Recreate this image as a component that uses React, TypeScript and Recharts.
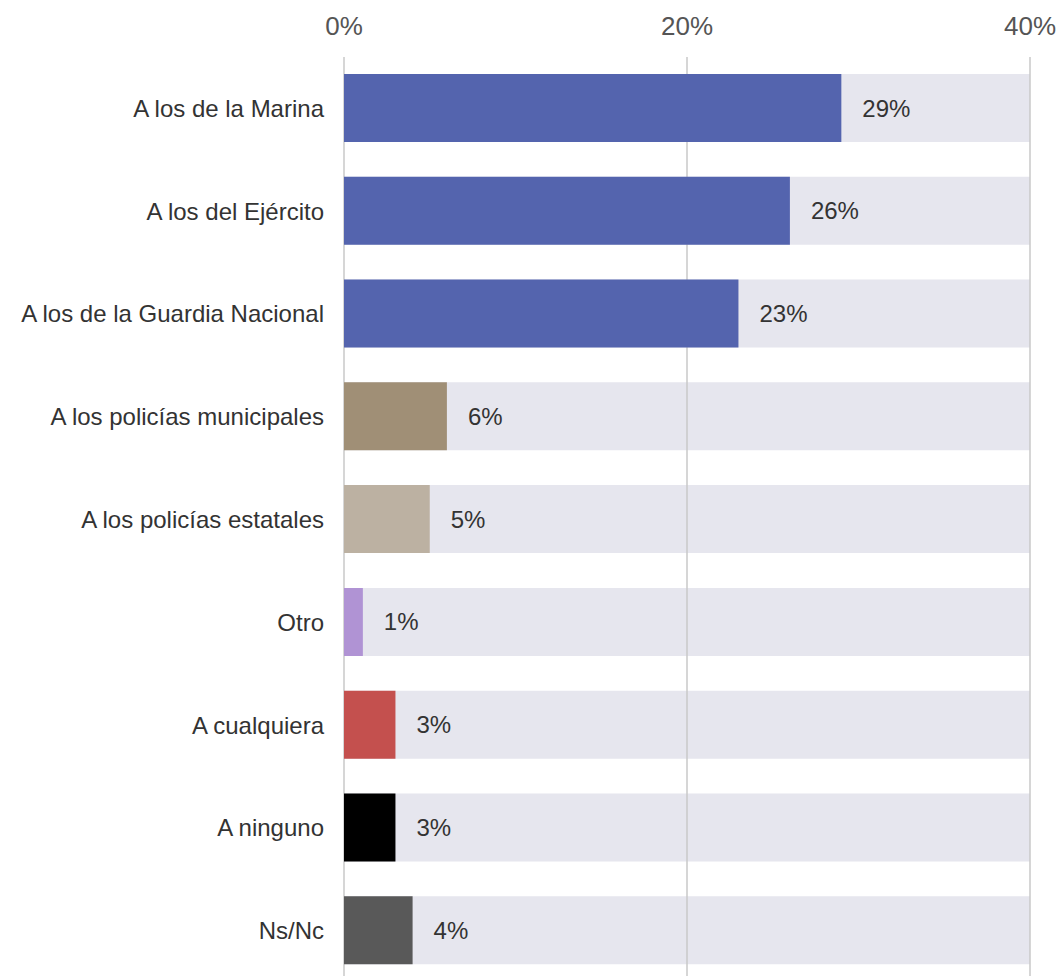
import { BarChart, Bar, XAxis, YAxis, CartesianGrid, Cell, LabelList } from 'recharts';

const categories = [
  'A los de la Marina',
  'A los del Ejército',
  'A los de la Guardia Nacional',
  'A los policías municipales',
  'A los policías estatales',
  'Otro',
  'A cualquiera',
  'A ninguno',
  'Ns/Nc',
];

const values = [29, 26, 23, 6, 5, 1.1, 3, 3, 4];

const colors = [
  '#5464ae',
  '#5464ae',
  '#5464ae',
  '#a08f76',
  '#bcb1a2',
  '#b093d4',
  '#c4504e',
  '#000000',
  '#595959',
];

const xTicks = [0, 20, 40];
const maxValue = 40;

const data = categories.map((name, i) => ({
  name,
  value: values[i],
  full: maxValue,
  color: colors[i],
}));

const W = 1061;
const H = 982;

export default function App() {
  return (
    <div
      style={{
        position: 'fixed',
        top: 0,
        left: 0,
        width: W,
        height: 976,
        overflow: 'hidden',
        background: '#fff',
        fontFamily: '"Liberation Sans", Arial, sans-serif',
      }}
    >
      {/* grey background bars, under the grid */}
      <div style={{ position: 'absolute', top: 0, left: 0 }}>
        <BarChart
          width={W}
          height={H}
          data={data}
          layout="vertical"
          margin={{ top: 57, right: 31, left: 344, bottom: 0 }}
        >
          <XAxis type="number" domain={[0, maxValue]} hide />
          <YAxis type="category" dataKey="name" hide />
          <Bar dataKey="full" fill="#e6e6ee" barSize={68} isAnimationActive={false} />
        </BarChart>
      </div>
      <div style={{ position: 'absolute', top: 0, left: 0 }}>
        <BarChart
          width={W}
          height={H}
          data={data}
          layout="vertical"
          margin={{ top: 0, right: 31, left: 0, bottom: 0 }}
        >
          <CartesianGrid horizontal={false} stroke="#c8c8c8" strokeWidth={1.5} />
          <XAxis
            type="number"
            orientation="top"
            domain={[0, maxValue]}
            ticks={xTicks}
            tickFormatter={(v) => `${v}%`}
            height={57}
            axisLine={false}
            tickLine={false}
            tickSize={0}
            tickMargin={22}
            tick={{ fill: '#555', fontSize: 26 }}
          />
          <YAxis
            type="category"
            dataKey="name"
            width={344}
            axisLine={false}
            tickLine={false}
            tickSize={0}
            tickMargin={20}
            tick={{ fill: '#333', fontSize: 24 }}
          />
          <Bar dataKey="value" barSize={68} isAnimationActive={false}>
            {data.map((d, i) => (
              <Cell key={`c-${i}`} fill={d.color} />
            ))}
            <LabelList
              dataKey="value"
              position="right"
              offset={21}
              fill="#333"
              fontSize={24}
              formatter={(v: any) => `${Math.round(Number(v))}%`}
            />
          </Bar>
        </BarChart>
      </div>
    </div>
  );
}
